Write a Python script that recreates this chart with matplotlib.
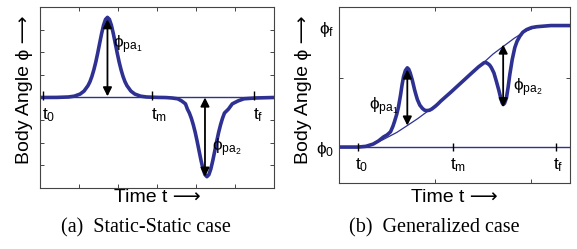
import matplotlib
matplotlib.use('Agg')
import matplotlib.pyplot as plt

plt.rcParams['font.family'] = ['Liberation Sans', 'DejaVu Sans']
plt.rcParams['mathtext.fontset'] = 'dejavusans'
plt.rcParams['mathtext.default'] = 'regular'

blue = '#2e3192'
grey = '#444444'

# (a) static-static: pitch excursion
a_t = [0, 0.43, 0.73, 0.88, 1.03, 1.13, 1.23, 1.28, 1.33, 1.38, 1.43, 1.48,
       1.53, 1.58, 1.63, 1.68, 1.73, 1.78, 1.83, 1.88, 1.93, 1.98, 2.03, 2.08,
       2.13, 2.18, 2.23, 2.33, 2.43, 2.58, 2.73, 3.03,
       3.23, 3.38, 3.53, 3.63, 3.73, 3.78, 3.83, 3.88, 3.93, 3.98, 4.03, 4.08,
       4.13, 4.18, 4.23, 4.28, 4.33, 4.38, 4.43, 4.48, 4.53, 4.58, 4.63, 4.68,
       4.73, 4.83, 4.93, 5.08, 5.23, 5.53, 6.0]
a_phi = [0, 0.003, 0.022, 0.058, 0.152, 0.284, 0.522, 0.694, 0.926, 1.217,
         1.562, 1.963, 2.398, 2.825, 3.195, 3.45, 3.54, 3.45, 3.195, 2.825,
         2.398, 1.963, 1.562, 1.217, 0.926, 0.694, 0.522, 0.284, 0.152, 0.058,
         0.022, 0.003,
         -0.003, -0.022, -0.057, -0.150, -0.281, -0.516, -0.686, -0.916,
         -1.203, -1.544, -1.941, -2.371, -2.793, -3.159, -3.41, -3.5, -3.41,
         -3.159, -2.793, -2.371, -1.941, -1.544, -1.203, -0.916, -0.686,
         -0.516, -0.281, -0.150, -0.057, -0.022, 0]
a_times = [0.08, 2.88, 5.48]
a_time_labels = ['$t_0$', '$t_m$', '$t_f$']
a_arrows = [(1.73, 0.05, 3.46), (4.23, 0.0, -3.5)]
a_peak_labels = [(1.86, 2.35, r'$\phi_{pa_1}$'), (4.41, -2.23, r'$\phi_{pa_2}$')]

# (b) generalized: nominal transition and the curve with excursions
b_nom_t = [0, 0.2, 0.35, 0.46, 0.6, 0.71, 0.82, 0.92, 1.06, 1.16, 1.27, 1.38,
           1.50, 1.60, 1.71, 1.82, 1.93, 2.02, 2.11, 2.2, 2.4]
b_nom_phi = [0, 0, 0.02, 0.062, 0.12, 0.177, 0.235, 0.294, 0.38, 0.45, 0.53,
             0.61, 0.693, 0.765, 0.83, 0.895, 0.95, 0.98, 0.995, 1.0, 1.0]
b_t = [0, 0.2, 0.28, 0.356, 0.41, 0.464, 0.50, 0.535, 0.56, 0.577, 0.60,
       0.618, 0.64, 0.655, 0.671, 0.69, 0.71, 0.725, 0.74, 0.762, 0.786, 0.80,
       0.815, 0.84, 0.867, 0.89, 0.912, 0.94, 0.964, 1.0, 1.024, 1.06, 1.16,
       1.27, 1.38, 1.45, 1.509, 1.53, 1.546, 1.565, 1.583, 1.61, 1.635, 1.66,
       1.68, 1.695, 1.706, 1.72, 1.74, 1.757, 1.775, 1.80, 1.827, 1.85, 1.879,
       1.91, 1.95, 2.0, 2.05, 2.107, 2.2, 2.4]
b_phi = [0, 0, 0.006, 0.025, 0.05, 0.084, 0.10, 0.125, 0.17, 0.21, 0.27,
         0.33, 0.43, 0.51, 0.58, 0.63, 0.652, 0.64, 0.61, 0.55, 0.47, 0.43,
         0.39, 0.345, 0.318, 0.303, 0.300, 0.303, 0.313, 0.335, 0.352, 0.38,
         0.45, 0.53, 0.61, 0.66, 0.695, 0.695, 0.687, 0.675, 0.654, 0.61, 0.542,
         0.47, 0.405, 0.365, 0.350, 0.36, 0.405, 0.49, 0.597, 0.72, 0.819, 0.87,
         0.912, 0.945, 0.967, 0.983, 0.99, 0.994, 1.0, 1.0]
b_times = [0.2, 1.18, 2.25]
b_time_labels = ['$t_0$', '$t_m$', '$t_f$']
b_arrows = [(0.71, 0.177, 0.638), (1.706, 0.844, 0.328)]
b_peak_labels = [(0.31, 0.33, r'$\phi_{pa_1}$'), (1.81, 0.49, r'$\phi_{pa_2}$')]


def style(ax):
    for s in ax.spines.values():
        s.set_color(grey)
        s.set_linewidth(0.8)
    ax.tick_params(direction='in', length=3, width=0.7, color=grey,
                   top=True, right=True, labelbottom=False, labelleft=False)


def arrows(ax, arr):
    for x, y0, y1 in arr:
        ax.annotate('', xy=(x, y1), xytext=(x, y0),
                    arrowprops=dict(arrowstyle='<|-|>', color='k', lw=1.3,
                                    mutation_scale=13, shrinkA=0, shrinkB=0))


fig = plt.figure(figsize=(5.77, 2.49), dpi=100)

ax = fig.add_axes([0.0693, 0.245, 0.4056, 0.727])
ax.axhline(0, color=blue, lw=1.0)
ax.plot(a_t, a_phi, color=blue, lw=2.6)
arrows(ax, a_arrows)
for x, lab in zip(a_times, a_time_labels):
    ax.vlines(x, -0.13, 0.27, color='k', lw=1.0)
    ax.text(x - 0.03, -0.38, lab, fontsize=12.5, ha='left', va='top')
for x, y, lab in a_peak_labels:
    ax.text(x, y, lab, fontsize=12.5, ha='left', va='center')
ax.set_xlim(0, 6)
ax.set_ylim(-4, 4)
ax.set_xticks([1, 2, 3, 4, 5])
ax.set_yticks([-3, -2, -1, 0, 1, 2, 3])
style(ax)
ax.set_xlabel('Time t \u27f6', fontsize=14, labelpad=1)
ax.set_ylabel('Body Angle \u03d5 \u27f6', fontsize=14)
ax.yaxis.set_label_coords(-0.03, 0.545)

bx = fig.add_axes([0.5875, 0.265, 0.4003, 0.707])
bx.axhline(0, color=blue, lw=1.0)
bx.plot(b_nom_t, b_nom_phi, color=blue, lw=0.9)
bx.plot(b_t, b_phi, color=blue, lw=2.6)
arrows(bx, b_arrows)
for x, lab in zip(b_times, b_time_labels):
    bx.vlines(x, -0.03, 0.037, color='k', lw=1.0)
    bx.text(x - 0.03, -0.08, lab, fontsize=12.5, ha='left', va='top')
for x, y, lab in b_peak_labels:
    bx.text(x, y, lab, fontsize=12.5, ha='left', va='center')
bx.text(-0.05, 0.97, r'$\phi_f$', fontsize=12.5, ha='right', va='center')
bx.text(-0.05, -0.02, r'$\phi_0$', fontsize=12.5, ha='right', va='center')
bx.set_xlim(0, 2.4)
bx.set_ylim(-0.296, 1.153)
bx.set_xticks([1, 2])
bx.set_yticks([0.572])
style(bx)
bx.set_xlabel('Time t \u27f6', fontsize=14, labelpad=4)
bx.set_ylabel('Body Angle \u03d5 \u27f6', fontsize=14)
bx.yaxis.set_label_coords(-0.115, 0.53)

fig.text(0.253, 0.084, '(a)  Static-Static case', fontsize=14.5,
         family='Liberation Serif', ha='center', va='center')
fig.text(0.752, 0.084, '(b)  Generalized case', fontsize=14.5,
         family='Liberation Serif', ha='center', va='center')

fig.savefig('out.png', dpi=100)
